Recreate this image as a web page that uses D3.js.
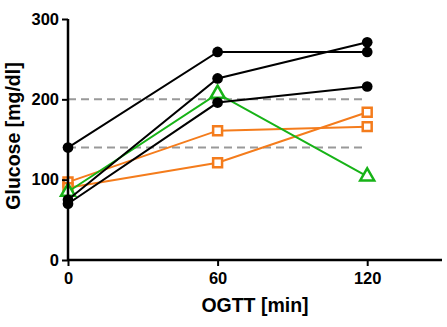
<!DOCTYPE html>
<html>
<head>
<meta charset="utf-8">
<script src="https://cdn.jsdelivr.net/npm/d3@7"></script>
<style>
  body { margin: 0; background: #fff; }
  text { font-family: "Liberation Sans", Arial, sans-serif; font-weight: bold; }
</style>
</head>
<body>
<svg id="chart"></svg>
<script>
// time points (min)
const timePoints = [0, 60, 120];
const yTicks = [0, 100, 200, 300];

// glucose values per subject
const blackSeries = [
  [140, 259, 259],
  [75, 226, 271],
  [70, 196, 216]
];
const orangeSeries = [
  [97, 161, 166],
  [90, 121, 184]
];
const greenSeries = [
  [85, 207, 104]
];
const refLevels = [200, 140];

const width = 447, height = 327;
const margin = {top: 19, right: 5, bottom: 67, left: 68};

const svg = d3.select('#chart')
    .attr('width', width)
    .attr('height', height);

const x = d3.scaleLinear().domain([0, 150]).range([margin.left, width - margin.right]);
const y = d3.scaleLinear().domain([0, 300]).range([height - margin.bottom, margin.top]);

// reference lines
svg.selectAll('.ref')
    .data(refLevels)
  .join('line')
    .attr('x1', x(0)).attr('x2', x(119))
    .attr('y1', d => y(d)).attr('y2', d => y(d))
    .attr('stroke', '#999')
    .attr('stroke-width', 2)
    .attr('stroke-dasharray', '8,5');

const line = d3.line()
    .x((d, i) => x(timePoints[i]))
    .y(d => y(d));

function drawGroup(data, color, shape) {
  const g = svg.append('g');
  g.selectAll('path.l')
      .data(data)
    .join('path')
      .attr('class', 'l')
      .attr('d', line)
      .attr('fill', 'none')
      .attr('stroke', color)
      .attr('stroke-width', 2);
  data.forEach(s => {
    g.selectAll(null)
        .data(s)
      .join('path')
        .attr('transform', (d, i) => `translate(${x(timePoints[i])},${y(d)})`)
        .attr('d', d3.symbol().type(shape.type).size(shape.size))
        .attr('fill', shape.fill)
        .attr('stroke', color)
        .attr('stroke-width', shape.sw);
  });
}

drawGroup(orangeSeries, '#f47c1c', {type: d3.symbolSquare, size: 80, fill: '#fff', sw: 2.5});
drawGroup(greenSeries, '#17b317', {type: d3.symbolTriangle, size: 85, fill: '#fff', sw: 2.5});
drawGroup(blackSeries, '#000', {type: d3.symbolCircle, size: 90, fill: '#000', sw: 0});

// axes
const xAxis = d3.axisBottom(x).tickValues(timePoints).tickSize(6).tickPadding(6);
const yAxis = d3.axisLeft(y).tickValues(yTicks).tickSize(6).tickPadding(3);

const xg = svg.append('g')
    .attr('transform', `translate(0,${y(0)})`)
    .call(xAxis);
const yg = svg.append('g')
    .attr('transform', `translate(${x(0)},0)`)
    .call(yAxis);

[xg, yg].forEach(g => {
  g.select('.domain').attr('stroke-width', 2.5).attr('stroke', '#000');
  g.selectAll('.tick line').attr('stroke-width', 2).attr('stroke', '#000');
  g.selectAll('.tick text').attr('font-size', 16.5).attr('fill', '#000')
    .attr('font-family', '"Liberation Sans", Arial, sans-serif').attr('font-weight', 'bold');
});
xg.select('.domain').attr('d', `M${x(0)},0H${x(150)}`);
yg.select('.domain').attr('d', `M0,${y(0)}V${y(300)}`);

// axis titles
svg.append('text')
    .attr('x', 255)
    .attr('y', 312)
    .attr('text-anchor', 'middle')
    .attr('font-size', 19.5)
    .text('OGTT [min]');

svg.append('text')
    .attr('transform', `translate(20,136) rotate(-90)`)
    .attr('text-anchor', 'middle')
    .attr('font-size', 19.5)
    .text('Glucose [mg/dl]');
</script>
</body>
</html>
